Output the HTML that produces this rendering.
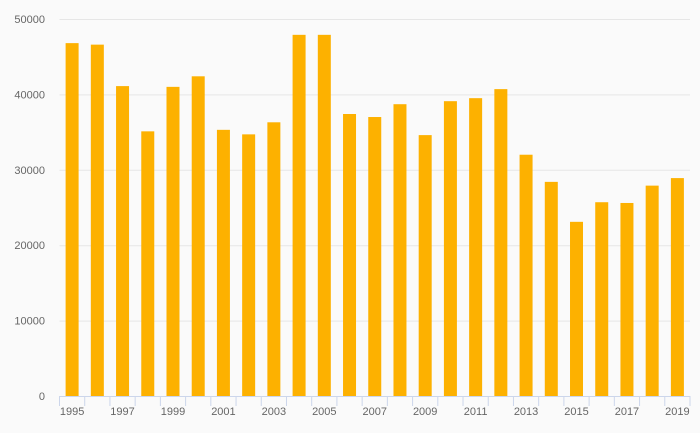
<!DOCTYPE html>
<html><head><meta charset="utf-8"><style>
body{margin:0;background:#fafafa;font-family:"Liberation Sans",sans-serif;}
svg{display:block}
</style></head><body>
<svg id="chart" width="700" height="433"></svg>
<script>
const years=[1995,1996,1997,1998,1999,2000,2001,2002,2003,2004,2005,2006,2007,2008,2009,2010,2011,2012,2013,2014,2015,2016,2017,2018,2019];
const values=[46800,46600,41100,35100,41000,42400,35300,34700,36300,47900,47900,37400,37000,38700,34600,39100,39500,40700,32000,28400,23100,25700,25600,27900,28900];
const yTicks=[0,10000,20000,30000,40000,50000];
const NS='http://www.w3.org/2000/svg';
const svg=document.getElementById('chart');
const x0=59.5,x1=690,y0=396,y1=19;
const bw=(x1-x0)/years.length;
const yS=v=>y0-(v/50000)*(y0-y1);
const xS=i=>x0+i*bw;
function mk(t,a){const e=document.createElementNS(NS,t);for(const k in a)e.setAttribute(k,a[k]);svg.appendChild(e);return e;}
yTicks.forEach(t=>{
  if(t>0){const g=mk('line',{x1:x0,x2:x1,y1:yS(t)+0.5,y2:yS(t)+0.5,stroke:'#e6e6e6'});
  
  }
  const l=mk('text',{x:45,y:yS(t)+4,'text-anchor':'end','font-size':11,fill:'#666'});
  l.textContent=t;
  
  
});
values.forEach((v,i)=>{
  const r=mk('rect',{x:xS(i)+bw/2-6.5,y:yS(v),width:13,height:y0-yS(v),fill:'#fdb100'});
  
  
});
const ax=mk('line',{x1:x0,x2:x1,y1:y0+0.5,y2:y0+0.5,stroke:'#ccd6eb'});


for(let i=0;i<=years.length;i++){
  const tk=mk('line',{x1:xS(i),x2:xS(i),y1:y0,y2:y0+10,stroke:'#ccd6eb'});
  
  
}
years.forEach((yr,i)=>{
  if(i%2)return;
  const l=mk('text',{x:xS(i)+bw/2,y:415,'text-anchor':'middle','font-size':11,fill:'#666'});
  l.textContent=yr;
  
  
});
</script>
</body></html>
